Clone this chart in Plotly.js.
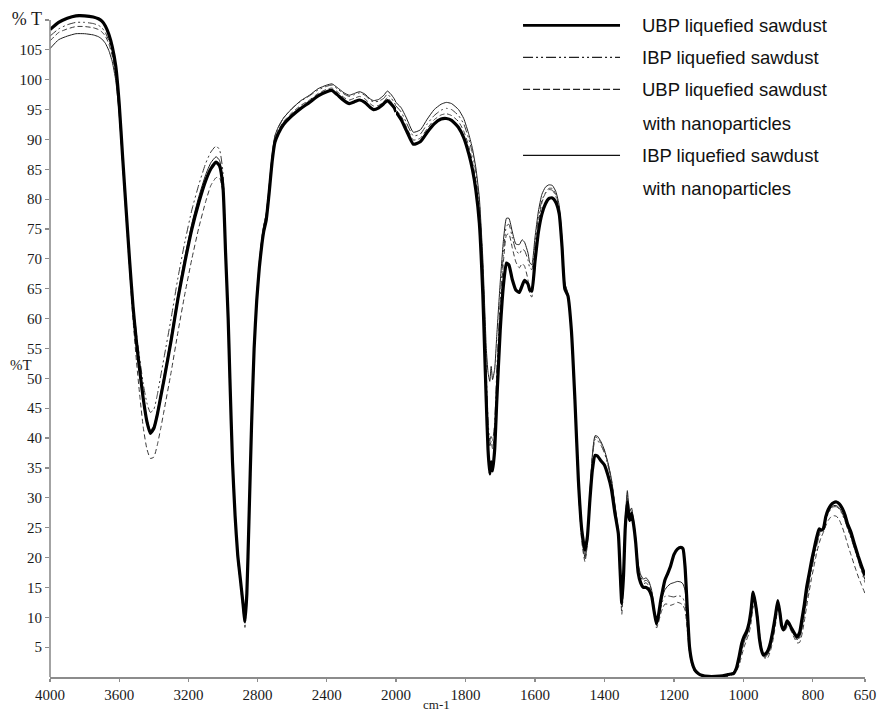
<!DOCTYPE html>
<html>
<head>
<meta charset="utf-8">
<script src="https://cdn.plot.ly/plotly-3.0.1.min.js"></script>
<style>
  html, body { margin: 0; padding: 0; background: #ffffff; }
  #chart { width: 878px; height: 714px; }
</style>
</head>
<body>
<div id="chart"></div>
<script>
// FTIR spectra of liquefied sawdust samples (transmittance, %T)
// Wavenumbers in cm-1; the scale is expanded below 2000 cm-1.
const wavenumber = [
  4000, 3950, 3900, 3850, 3800, 3750, 3720, 3700, 3680, 3660,
  3640, 3620, 3600, 3580, 3560, 3540, 3520, 3500, 3480, 3460,
  3440, 3420, 3400, 3380, 3360, 3340, 3300, 3260, 3220, 3180,
  3140, 3100, 3070, 3040, 3020, 3000, 2985, 2970, 2960, 2945,
  2930, 2915, 2900, 2885, 2873, 2862, 2850, 2835, 2820, 2805,
  2790, 2775, 2765, 2750, 2735, 2715, 2700, 2680, 2650, 2600,
  2550, 2500, 2450, 2400, 2370, 2340, 2300, 2270, 2240, 2210,
  2180, 2150, 2130, 2100, 2070, 2050, 2030, 2010, 2000,
  1985, 1970, 1950, 1930, 1910, 1890, 1870, 1855, 1840, 1820,
  1805, 1790, 1780, 1770, 1760, 1750, 1745, 1740, 1735, 1730,
  1726, 1722, 1716, 1710, 1700, 1690, 1682, 1675, 1665, 1655,
  1645, 1637, 1630, 1620, 1615, 1609, 1600, 1590, 1580, 1570,
  1560, 1550, 1540, 1530, 1522, 1514, 1505, 1495, 1485, 1475,
  1465, 1456, 1449, 1442, 1435, 1427, 1420, 1410, 1400, 1390,
  1380, 1370, 1360, 1355, 1350, 1345, 1340, 1334, 1328, 1322,
  1316, 1310, 1303, 1296, 1288, 1280, 1272, 1264, 1257, 1250,
  1244, 1238, 1232, 1226, 1218, 1210, 1200, 1190, 1180, 1174,
  1168, 1162, 1155, 1148, 1140, 1130, 1120, 1100, 1080, 1060,
  1045, 1035, 1028, 1020, 1012, 1005, 998, 991, 984, 978,
  972, 966, 960, 954, 948, 943, 936, 929, 922, 915,
  908, 901, 895, 890, 885, 880, 874, 868, 861, 853,
  845, 838, 832, 825, 818, 811, 804, 797, 789, 782,
  776, 770, 763, 756, 748, 740, 732, 724, 716, 708,
  700, 690, 680, 670, 660, 650
];

// UBP liquefied sawdust
const ubpSawdust = [
  108.4, 109.6, 110.3, 110.7, 110.7, 110.5, 110.2, 109.8, 109.0, 107.6,
  105.5, 102.3, 96.0, 87.0, 78.3, 69.8, 62.0, 56.0, 51.0, 46.4,
  42.8, 40.8, 41.6, 43.9, 46.9, 49.9, 56.3, 63.4, 69.5, 75.0,
  79.4, 83.1, 85.1, 86.2, 85.6, 82.0, 71.0, 60.0, 50.0, 36.0,
  27.0, 20.5, 16.5, 12.5, 9.3, 14.0, 26.0, 42.0, 55.0, 63.0,
  68.5, 72.5, 74.5, 76.5, 80.5, 86.5, 89.5, 91.0, 92.5, 94.0,
  95.2, 96.2, 97.3, 98.0, 98.2, 97.5, 96.5, 96.0, 96.3, 96.6,
  96.2, 95.4, 95.0, 95.3, 96.0, 96.5, 96.0, 95.3, 94.6,
  93.3, 91.5, 89.2, 89.6, 91.2, 92.6, 93.4, 93.5, 93.2, 92.0,
  90.3, 87.5, 85.0, 81.5, 76.0, 64.0, 55.0, 46.0, 38.0, 34.0,
  36.0, 34.5, 38.0, 46.0, 58.0, 66.0, 69.3, 69.0, 66.5, 64.8,
  64.4, 65.5, 66.4, 65.8, 64.8, 64.6, 69.5, 74.5, 77.5, 79.2,
  80.1, 80.2, 79.5, 77.5, 72.0, 65.0, 63.8, 58.0, 46.5, 33.0,
  24.5, 21.2, 23.5, 29.5, 34.5, 37.1, 37.0, 36.2, 35.5, 33.8,
  31.5, 27.5, 24.0, 18.0, 12.3, 17.0, 25.0, 29.3, 26.2, 27.4,
  25.5, 22.5, 17.5, 15.8, 15.0, 15.0, 14.6, 13.5, 11.0, 8.9,
  10.5, 12.8, 14.6, 16.2, 17.3, 18.5, 20.5, 21.4, 21.7, 21.5,
  18.5, 12.0, 5.0, 2.5, 1.2, 0.6, 0.3, 0.1, 0.1, 0.2,
  0.4, 0.5, 0.6, 1.5, 3.5, 5.6, 6.8, 7.6, 9.0, 11.2,
  14.2, 12.5, 10.0, 6.5, 4.5, 3.7, 3.9, 4.5, 5.8, 7.8,
  10.2, 12.8, 10.8, 8.6, 7.9, 8.4, 9.4, 8.9, 8.1, 7.3,
  6.7, 7.5, 9.5, 12.0, 15.0, 17.2, 19.4, 21.3, 23.4, 24.8,
  24.6, 24.8, 26.8, 28.0, 28.8, 29.2, 29.3, 29.0, 28.3, 27.2,
  25.6, 24.2, 22.2, 20.3, 18.6, 17.0
];

// IBP liquefied sawdust
const ibpSawdust = [
  107.3, 108.5, 109.2, 109.6, 109.6, 109.4, 109.1, 108.7, 107.9, 106.5,
  104.4, 101.2, 95.0, 86.3, 78.0, 70.0, 62.8, 57.4, 53.0, 48.9,
  45.9, 44.3, 44.8, 47.2, 50.4, 53.6, 60.0, 66.9, 72.9, 78.2,
  82.4, 86.0, 87.9, 88.9, 88.3, 84.5, 72.5, 60.5, 50.5, 36.5,
  27.5, 21.0, 16.8, 12.5, 9.0, 13.5, 25.5, 41.5, 55.0, 63.5,
  69.5, 73.5, 75.5, 77.5, 81.5, 87.5, 90.5, 92.0, 93.6, 95.2,
  96.4, 97.3, 98.3, 98.9, 99.1, 98.5, 97.6, 97.2, 97.5, 97.8,
  97.4, 96.6, 96.3, 96.4, 96.9, 97.6, 97.0, 96.2, 95.6,
  94.6, 92.8, 90.6, 90.9, 92.6, 94.0, 94.9, 95.2, 95.0, 94.0,
  92.6, 90.0, 87.7, 84.5, 79.5, 68.5, 60.0, 51.0, 43.0, 39.5,
  40.5, 39.5, 42.5, 51.0, 63.0, 71.5, 75.5, 75.8, 73.5, 71.5,
  70.8, 71.6, 71.4, 69.8, 68.5, 68.2, 72.5, 77.0, 79.8, 81.0,
  81.6, 81.5, 80.5, 78.2, 72.5, 65.5, 64.0, 57.5, 45.5, 32.0,
  23.5, 19.8, 22.5, 30.0, 36.5, 39.8, 39.6, 38.8, 37.5, 35.5,
  32.8, 28.5, 24.0, 17.0, 11.5, 16.5, 25.5, 30.5, 27.0, 27.8,
  25.8, 23.0, 18.5, 16.8, 16.0, 16.2, 15.8, 14.3, 11.2, 8.6,
  9.8, 11.5, 12.8, 13.5, 13.6, 13.5, 13.4, 13.6, 13.5, 13.2,
  12.2, 9.0, 4.5, 2.2, 1.0, 0.5, 0.3, 0.1, 0.1, 0.1,
  0.2, 0.5, 0.9, 1.4, 2.6, 4.4, 5.8, 6.9, 8.0, 9.8,
  12.5, 12.6, 10.5, 7.2, 4.8, 3.6, 3.3, 3.8, 5.0, 6.8,
  9.2, 11.8, 11.2, 9.0, 8.0, 8.2, 8.8, 8.6, 7.8, 6.9,
  6.2, 6.5, 8.0, 10.3, 13.0, 15.5, 17.8, 19.8, 22.0, 23.6,
  24.4, 25.0, 26.3, 27.4, 28.1, 28.5, 28.5, 28.1, 27.3, 26.2,
  24.8, 23.2, 21.4, 19.6, 17.6, 15.8
];

// UBP liquefied sawdust with nanoparticles
const ubpNano = [
  106.5, 107.9, 108.5, 108.9, 108.9, 108.7, 108.4, 108.0, 107.3, 106.0,
  104.0, 100.8, 94.6, 85.8, 77.0, 68.2, 59.8, 52.8, 46.8, 41.6,
  38.2, 36.6, 36.8, 38.8, 41.6, 44.7, 51.0, 57.8, 64.2, 70.0,
  75.2, 79.6, 82.3, 83.6, 83.6, 81.0, 71.0, 59.5, 49.5, 35.5,
  26.5, 19.5, 15.5, 11.5, 8.3, 13.0, 25.0, 41.0, 54.5, 63.0,
  69.0, 73.0, 75.0, 77.0, 81.0, 87.0, 90.0, 91.5, 93.0, 94.5,
  95.7, 96.6, 97.7, 98.4, 98.6, 98.0, 97.0, 96.6, 96.9, 97.2,
  96.8, 96.0, 95.6, 95.7, 96.3, 97.0, 96.4, 95.5, 94.9,
  93.9, 92.1, 89.9, 90.2, 91.8, 93.3, 94.1, 94.3, 94.0, 93.0,
  91.4, 88.8, 86.3, 83.0, 77.8, 66.5, 58.0, 49.0, 41.5, 38.5,
  39.5, 38.2, 41.0, 49.5, 61.5, 70.0, 74.0, 74.2, 71.8, 69.5,
  68.5, 69.2, 68.8, 66.5, 64.2, 63.6, 70.5, 76.0, 79.4, 81.0,
  81.8, 81.8, 80.8, 78.5, 72.8, 65.8, 64.0, 57.0, 45.0, 31.5,
  22.5, 19.3, 22.2, 30.0, 36.8, 40.2, 40.0, 39.2, 37.8, 35.8,
  33.0, 28.5, 23.5, 16.5, 10.5, 16.0, 25.0, 30.2, 27.0, 27.6,
  25.5, 22.5, 18.0, 16.2, 15.6, 15.8, 15.2, 13.8, 10.8, 8.2,
  9.2, 10.6, 11.6, 12.2, 12.2, 12.0, 12.2, 12.5, 12.3, 12.0,
  11.2, 8.2, 4.0, 2.0, 0.9, 0.4, 0.2, 0.1, 0.1, 0.1,
  0.1, 0.3, 0.6, 1.0, 2.0, 3.6, 5.0, 6.2, 7.3, 9.0,
  11.6, 12.2, 10.6, 7.6, 5.0, 3.6, 3.0, 3.3, 4.4, 6.1,
  8.6, 11.2, 11.0, 9.0, 7.8, 7.8, 8.4, 8.3, 7.5, 6.5,
  5.7, 5.8, 7.0, 9.2, 11.8, 14.2, 16.5, 18.5, 20.8, 22.4,
  23.4, 24.2, 25.3, 26.2, 26.8, 27.0, 26.9, 26.3, 25.2, 23.8,
  22.2, 20.4, 18.6, 16.9, 15.4, 14.0
];

// IBP liquefied sawdust with nanoparticles
const ibpNano = [
  105.2, 106.7, 107.3, 107.7, 107.7, 107.5, 107.2, 106.8, 106.1, 104.9,
  103.0, 99.9, 94.2, 86.0, 77.8, 69.6, 62.0, 56.2, 51.3, 46.8,
  43.2, 41.3, 42.0, 44.4, 47.5, 50.6, 57.1, 64.2, 70.4, 75.9,
  80.4, 84.1, 86.1, 87.1, 86.5, 82.8, 71.5, 60.5, 50.5, 36.5,
  27.5, 21.0, 16.8, 12.8, 9.5, 14.0, 26.0, 42.0, 55.5, 63.8,
  69.5, 73.5, 75.5, 77.6, 81.6, 87.6, 90.6, 92.1, 93.6, 95.2,
  96.5, 97.4, 98.5, 99.1, 99.3, 98.7, 97.8, 97.4, 97.7, 98.0,
  97.6, 96.8, 96.5, 96.7, 97.4, 98.1, 97.6, 96.8, 96.2,
  95.3, 93.6, 91.2, 91.6, 93.4, 95.0, 95.9, 96.2, 96.0, 95.0,
  93.5, 90.8, 88.5, 85.2, 80.2, 70.0, 62.5, 55.0, 51.0, 49.5,
  52.0, 49.8, 51.5, 57.0, 66.0, 73.5, 76.8, 76.8, 74.5, 72.5,
  72.4, 73.2, 72.8, 71.0, 69.4, 69.0, 73.5, 78.0, 80.8, 82.0,
  82.4, 82.3, 81.3, 78.9, 73.2, 66.0, 64.2, 57.8, 46.0, 32.2,
  23.5, 20.0, 22.8, 30.5, 37.0, 40.4, 40.3, 39.4, 38.0, 35.9,
  33.2, 29.0, 24.5, 18.0, 12.2, 17.2, 26.5, 31.2, 27.6, 28.3,
  26.2, 23.3, 19.0, 17.2, 16.4, 16.6, 16.0, 14.5, 11.5, 8.8,
  10.2, 12.0, 13.6, 14.6, 15.2, 15.6, 15.8, 16.0, 15.9, 15.6,
  14.5, 10.5, 5.0, 2.4, 1.1, 0.5, 0.3, 0.1, 0.1, 0.1,
  0.2, 0.5, 0.9, 1.4, 2.7, 4.5, 5.9, 7.0, 8.2, 10.1,
  12.9, 12.8, 10.6, 7.2, 4.8, 3.6, 3.4, 3.9, 5.1, 7.0,
  9.5, 12.1, 11.4, 9.2, 8.1, 8.4, 9.0, 8.7, 7.9, 7.0,
  6.3, 6.7, 8.3, 10.7, 13.5, 16.0, 18.3, 20.3, 22.5, 24.0,
  24.6, 25.2, 26.5, 27.6, 28.3, 28.7, 28.7, 28.3, 27.5, 26.4,
  25.0, 23.4, 21.6, 19.8, 18.0, 16.3
];

const xTicksHigh = [4000, 3600, 3200, 2800, 2400, 2000];
const xTicksLow = [1800, 1600, 1400, 1200, 1000, 800, 650];
const yTicks = [5, 10, 15, 20, 25, 30, 35, 40, 45, 50, 55, 60, 65, 70, 75, 80, 85, 90, 95, 100, 105, 110];
const yTickText = yTicks.map(v => v === 110 ? '<span style="font-size:18px">% T</span>' : String(v));
const yAxisTop = 110;

const seriesNames = [
  'UBP liquefied sawdust',
  'IBP liquefied sawdust',
  'UBP liquefied sawdust<br>with nanoparticles',
  'IBP liquefied sawdust<br>with nanoparticles'
];

[ubpSawdust, ibpSawdust, ubpNano, ibpNano].forEach(s => {
  if (s.length !== wavenumber.length) {
    throw new Error('series length ' + s.length + ' != ' + wavenumber.length);
  }
});

// Split a spectrum at 2000 cm-1 into the two scale segments.
function segment(values, high) {
  const x = [], y = [];
  wavenumber.forEach((w, i) => {
    if (high ? w >= 2000 : w <= 2000) { x.push(w); y.push(values[i]); }
  });
  return { x, y };
}

const styles = [
  { color: '#000000', width: 3.2, dash: 'solid' },
  { color: '#3a3a3a', width: 1, dash: '8px,3px,2px,3px,2px,3px' },
  { color: '#3a3a3a', width: 1, dash: '5px,3px' },
  { color: '#1e1e1e', width: 1, dash: 'solid' }
];
const allSeries = [ubpSawdust, ibpSawdust, ubpNano, ibpNano];
const drawOrder = [3, 2, 1, 0];

const traces = [];
drawOrder.forEach(k => {
  [true, false].forEach(high => {
    const seg = segment(allSeries[k], high);
    traces.push({
      type: 'scatter', mode: 'lines',
      x: seg.x, y: seg.y,
      xaxis: high ? 'x' : 'x2', yaxis: 'y',
      name: seriesNames[k],
      showlegend: false,
      hoverinfo: 'skip',
      line: { color: styles[k].color, width: styles[k].width, dash: styles[k].dash, shape: 'spline', smoothing: 0.5 }
    });
  });
});

const serif = '"Liberation Serif", "Times New Roman", serif';
const sans = '"Liberation Sans", Arial, sans-serif';
const axisColor = '#8c8c8c';
const axisCommon = {
  showgrid: false, zeroline: false,
  showline: true, linecolor: axisColor, linewidth: 1.6,
  ticks: 'outside', ticklen: 3, tickwidth: 1.2, tickcolor: axisColor,
  tickfont: { family: serif, size: 15, color: '#1a1a1a' },
  fixedrange: true
};

const split = 0.4245;
const layout = {
  width: 878, height: 714,
  margin: { l: 50, r: 13, t: 14, b: 37 },
  paper_bgcolor: '#ffffff', plot_bgcolor: '#ffffff',
  showlegend: false,
  xaxis: Object.assign({}, axisCommon, {
    domain: [0, split], range: [4000, 2000], anchor: 'y',
    tickmode: 'array', tickvals: xTicksHigh, ticktext: xTicksHigh.map(String)
  }),
  xaxis2: Object.assign({}, axisCommon, {
    domain: [split, 1], range: [2000, 650], anchor: 'y',
    tickmode: 'array', tickvals: xTicksLow, ticktext: xTicksLow.map(String)
  }),
  yaxis: Object.assign({}, axisCommon, {
    range: [0, 111], anchor: 'x', showline: false, ticklen: 4,
    tickmode: 'array', tickvals: yTicks, ticktext: yTickText,
    tickfont: { family: serif, size: 15, color: '#1a1a1a' }
  }),
  annotations: [
    { text: '%T', xref: 'paper', yref: 'y', x: -0.036, y: 52.2, showarrow: false,
      xanchor: 'center', yanchor: 'middle', font: { family: serif, size: 15, color: '#1a1a1a' } },
    { text: 'cm-1', xref: 'paper', yref: 'paper', x: 0.4745, y: -0.0555, showarrow: false,
      xanchor: 'center', yanchor: 'bottom', font: { family: serif, size: 13, color: '#1a1a1a' } }
  ],
  shapes: [
    // vertical axis line, ending at the top tick
    { type: 'line', xref: 'paper', yref: 'y', x0: 0, x1: 0, y0: 0, y1: yAxisTop,
      line: { color: axisColor, width: 1.6 } }
  ]
};

// Legend drawn as sample lines with labels in the upper right corner.
const legendRows = [
  { line: 0.9828, text: [[0.9828, 'UBP liquefied sawdust']] },
  { line: 0.9345, text: [[0.9345, 'IBP liquefied sawdust']] },
  { line: 0.8863, text: [[0.8863, 'UBP liquefied sawdust'], [0.8350, 'with nanoparticles']] },
  { line: 0.7867, text: [[0.7867, 'IBP liquefied sawdust'], [0.7370, 'with nanoparticles']] }
];
const legendWidths = [2.8, 1.2, 1.2, 1.2];
const legendColors = ['#000000', '#222222', '#222222', '#111111'];
legendRows.forEach((row, k) => {
  layout.shapes.push({
    type: 'line', xref: 'paper', yref: 'paper',
    x0: 0.5804, x1: 0.6994, y0: row.line, y1: row.line,
    line: { color: legendColors[k], width: legendWidths[k], dash: styles[k].dash === 'solid' ? 'solid' : (k === 1 ? '10px,3px,2px,3px,2px,3px' : '7px,3px') }
  });
  row.text.forEach(([yy, t]) => {
    layout.annotations.push({
      text: t, xref: 'paper', yref: 'paper', x: 0.7239, y: yy,
      xanchor: 'left', yanchor: 'middle', showarrow: false,
      font: { family: sans, size: 18.5, color: '#111111' }
    });
  });
});

Plotly.newPlot('chart', traces, layout, { staticPlot: true, displayModeBar: false });
</script>
</body>
</html>
